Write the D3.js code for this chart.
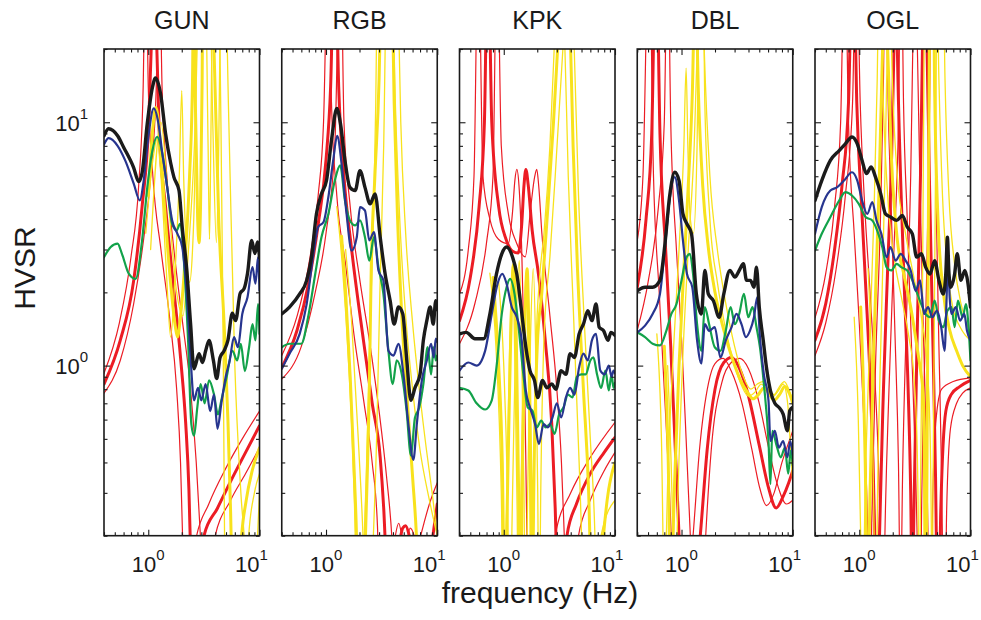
<!DOCTYPE html>
<html><head><meta charset="utf-8">
<script src="https://cdn.jsdelivr.net/npm/d3@7"></script>
<style>
body{margin:0;background:#fff}
svg{display:block}
text{font-family:"Liberation Sans",Arial,Helvetica,sans-serif;fill:#1a1a1a}
</style></head>
<body><svg id="chart" width="981" height="620"></svg>
<script>
// ---------------- DATA ----------------
const stations = ["GUN", "RGB", "KPK", "DBL", "OGL"];
const xTickMajor = [1, 10];
const yTickMajor = [1, 10];
const xTickMinor = [0.4,0.5,0.6,0.7,0.8,0.9,2,3,4,5,6,7,8,9];
const yTickMinor = [0.2,0.3,0.4,0.5,0.6,0.7,0.8,0.9,2,3,4,5,6,7,8,9,20];
const xAxisLabel = "frequency (Hz)";
const yAxisLabel = "HVSR";

// GUN
const gunBlack = [[0.40,8.8],[0.44,9.4],[0.53,8.8],[0.60,7.9],[0.74,6.5],[0.82,5.7],[0.88,6.2],[0.98,9.9],[1.09,13.9],[1.16,15.2],[1.29,13.1],[1.43,9.0],[1.59,6.8],[1.70,5.95],[1.89,5.24],[2.02,3.7],[2.21,2.53],[2.40,1.49],[2.58,0.97],[2.86,1.12],[3.07,1.03],[3.28,1.15],[3.52,1.27],[3.85,1.05],[4.12,0.885],[4.42,1.08],[4.80,1.15],[5.2,1.27],[5.7,1.64],[6.1,1.53],[6.7,1.98],[7.27,2.07],[7.8,2.39],[8.5,3.27],[9.1,2.89],[9.6,3.22],[10.0,2.78]];
const gunBlue = [[0.40,8.1],[0.44,8.6],[0.53,8.0],[0.62,6.97],[0.74,5.6],[0.84,4.77],[0.91,5.76],[1.01,9.0],[1.12,11.4],[1.22,10.2],[1.34,7.4],[1.48,5.4],[1.64,3.95],[1.83,3.48],[2.02,3.07],[2.24,1.85],[2.40,1.08],[2.58,0.72],[2.80,0.81],[3.00,0.72],[3.28,0.84],[3.60,0.65],[3.90,0.76],[4.19,0.55],[4.54,0.70],[4.97,0.90],[5.40,1.05],[5.90,1.31],[6.40,1.19],[7.00,1.63],[7.80,1.91],[8.65,2.54],[9.20,2.17],[9.70,2.79],[10.0,2.03]];
const gunGreen = [[0.40,2.79],[0.46,3.07],[0.53,3.17],[0.58,2.88],[0.67,2.38],[0.77,2.27],[0.88,3.27],[0.98,5.4],[1.09,7.65],[1.2,8.7],[1.34,7.4],[1.48,5.4],[1.64,3.82],[1.8,3.59],[1.93,3.82],[2.09,2.7],[2.28,1.27],[2.44,0.575],[2.58,0.515],[2.76,0.674],[2.96,0.84],[3.21,0.70],[3.52,0.87],[3.9,0.76],[4.23,0.63],[4.54,0.72],[5.07,0.90],[5.7,1.15],[6.3,1.05],[6.8,1.23],[7.38,0.95],[8.06,1.19],[8.65,1.48],[9.2,1.27],[9.7,1.79],[10.0,1.35]];
const gunRedThick = [[0.40,0.84],[0.56,1.27],[0.74,2.24],[0.88,4.5],[1.01,10],[1.08,25],[1.13,60],[1.18,25],[1.25,9.5],[1.43,4.5],[1.64,2.39],[1.95,1.08],[2.17,0.58],[2.32,0.31],[2.42,0.15],[2.6,0.07],[2.9,0.1],[3.17,0.2],[4.2,0.26],[5.6,0.34],[7.5,0.44],[10.0,0.566]];
const gunRedThinA = [[0.40,0.93],[0.55,1.5],[0.70,2.8],[0.82,5.5],[0.90,14],[0.95,60],[1.0,14],[1.1,6.0],[1.3,3.0],[1.55,1.6],[1.8,0.8],[1.95,0.4],[2.04,0.19],[2.3,0.08],[2.66,0.19],[3.5,0.27],[5,0.38],[7,0.5],[10.0,0.65]];
const gunRedThinB = [[0.40,0.77],[0.56,1.05],[0.74,1.8],[0.9,3.2],[1.05,6],[1.18,14],[1.25,60],[1.33,14],[1.45,6.5],[1.7,3.0],[2.0,1.6],[2.4,0.8],[2.7,0.4],[2.96,0.19],[3.4,0.08],[3.9,0.19],[5.5,0.28],[7.5,0.36],[10.0,0.46]];
const gunYellowThick = [[1.0,5],[1.1,9.5],[1.17,11.5],[1.25,9.5],[1.4,4.5],[1.6,2.1],[1.75,1.45],[1.83,1.31],[1.95,1.6],[2.15,2.8],[2.35,6],[2.5,15],[2.56,40],[2.65,12],[2.78,4],[2.86,3.2],[2.95,4.5],[3.05,15],[3.1,40],[3.5,80],[3.9,20],[4.3,4],[4.8,1.5],[5.2,0.6],[5.5,0.25],[5.75,0.1],[6.2,0.06],[6.8,0.18],[7.6,0.28],[8.6,0.37],[10.0,0.46]];
const gunYellowThinA = [[0.95,3.5],[1.1,7],[1.2,8.5],[1.3,6],[1.45,2.5],[1.59,1.31],[1.75,2.5],[1.9,6],[2.0,13.5],[2.08,6],[2.2,3.0],[2.35,2.2],[2.5,3],[2.65,8],[2.75,40],[3.2,60],[3.45,8],[3.55,3.3],[3.65,8],[3.8,40],[4.2,60],[4.5,10],[4.7,1.5],[4.85,0.2],[5.2,0.05],[7.5,0.1],[8.0,0.2],[9.0,0.3],[10.0,0.36]];
const gunYellowThinB = [[1.05,3],[1.3,10],[1.5,5],[1.8,2],[2.05,1.6],[2.3,3],[2.6,8],[2.9,40],[3.5,60],[3.8,10],[4.1,3.2],[4.3,8],[4.5,40],[4.8,60],[5.3,10],[6.0,1.0],[6.8,0.3],[7.5,0.15],[8.0,0.05],[9.0,0.1],[9.6,0.2],[10.0,0.3]];

// RGB
const rgbBlack = [[0.40,1.63],[0.47,1.74],[0.58,1.97],[0.67,2.24],[0.74,2.79],[0.82,4.2],[0.91,5.08],[1.01,5.76],[1.12,8.43],[1.25,11.4],[1.35,9.85],[1.48,6.97],[1.64,5.4],[1.83,5.24],[2.02,6.33],[2.24,5.4],[2.49,4.62],[2.76,5.08],[3.07,3.37],[3.4,2.38],[3.77,1.85],[4.1,1.48],[4.48,1.74],[4.9,1.63],[5.3,1.08],[5.8,0.72],[6.3,0.81],[7.0,0.92],[7.5,1.27],[8.06,1.53],[8.65,1.74],[9.2,1.48],[9.7,1.85],[10.0,1.7]];
const rgbBlue = [[0.40,0.97],[0.47,1.12],[0.58,1.35],[0.67,1.79],[0.77,2.88],[0.85,3.71],[0.95,3.89],[1.05,4.93],[1.16,6.97],[1.26,8.8],[1.38,6.75],[1.53,4.2],[1.70,2.97],[1.89,3.37],[2.02,4.48],[2.24,4.34],[2.45,3.27],[2.7,3.54],[2.96,2.46],[3.28,2.24],[3.64,1.15],[4.04,1.10],[4.48,1.23],[4.97,0.92],[5.5,0.575],[6.1,0.41],[6.55,0.575],[7.27,0.87],[8.06,1.05],[8.8,1.23],[9.3,1.08],[9.7,1.29],[10.0,1.25]];
const rgbGreen = [[0.40,1.19],[0.47,1.23],[0.60,1.23],[0.69,1.58],[0.80,2.38],[0.91,3.37],[1.05,4.2],[1.2,5.76],[1.34,6.65],[1.48,4.77],[1.64,3.95],[1.83,3.77],[2.02,3.95],[2.24,3.37],[2.45,2.7],[2.7,3.37],[2.96,2.54],[3.28,1.97],[3.64,1.15],[3.98,0.84],[4.32,1.05],[4.8,0.92],[5.3,0.653],[5.8,0.427],[6.3,0.61],[6.9,0.674],[7.5,0.84],[8.2,1.19],[8.8,0.92],[9.3,1.19],[9.7,1.05],[10.0,1.1]];
const rgbRedThick = [[0.40,0.98],[0.55,1.4],[0.7,2.2],[0.85,3.8],[1.0,7],[1.1,14],[1.2,60],[1.3,14],[1.45,6],[1.7,3],[2.17,1.27],[2.6,0.7],[3.07,0.42],[3.3,0.26],[3.5,0.15],[3.8,0.12],[4.3,0.16],[4.6,0.19],[4.9,0.215],[5.2,0.22],[5.6,0.2],[6.2,0.15],[7.0,0.11],[8.0,0.13],[9.0,0.19],[10.0,0.27]];
const rgbRedThinA = [[0.40,1.10],[0.55,1.6],[0.7,2.6],[0.85,5],[0.95,10],[1.05,60],[1.12,12],[1.25,5],[1.5,2.6],[1.8,1.3],[2.2,0.7],[2.6,0.4],[2.9,0.22],[3.0,0.12],[3.3,0.08],[3.8,0.14],[4.2,0.2],[4.5,0.225],[4.8,0.2],[5.2,0.16],[5.8,0.15],[6.5,0.17],[7.1,0.2],[8.5,0.27],[10.0,0.33]];
const rgbRedThinB = [[0.40,0.88],[0.6,1.2],[0.8,2.0],[1.0,3.5],[1.2,8],[1.35,60],[1.45,10],[1.65,4.5],[2.0,2.3],[2.5,1.2],[3.0,0.65],[3.5,0.35],[3.9,0.2],[4.2,0.1],[4.8,0.12],[5.3,0.18],[5.7,0.215],[6.2,0.2],[6.8,0.16],[8.0,0.1],[10.0,0.15]];
const rgbYellowThick = [[1.38,3.4],[1.5,2.0],[1.65,0.9],[1.8,0.35],[1.89,0.18],[1.95,0.08],[2.15,0.08],[2.25,0.18],[2.45,0.8],[2.55,2.5],[2.75,6],[3.0,15],[3.15,40],[3.5,80],[3.9,40],[4.1,12],[4.4,4],[4.8,1.6],[5.4,0.7],[6.0,0.35],[6.5,0.2],[6.9,0.1],[8,0.05]];
const rgbYellowThinA = [[1.25,4.5],[1.4,2.6],[1.6,1.0],[1.75,0.4],[1.85,0.15],[1.9,0.05],[2.1,0.1],[2.3,0.35],[2.5,1.5],[2.7,5],[2.8,12],[2.9,40],[3.3,80],[3.8,80],[4.2,12],[4.6,4],[5.2,1.6],[6.0,0.8],[7.0,0.45],[8.5,0.28],[10.0,0.2]];
const rgbYellowThinB = [[1.5,3.0],[1.7,1.5],[1.95,0.5],[2.2,0.15],[2.35,0.05],[2.6,0.15],[2.85,0.5],[3.05,2],[3.3,8],[3.5,40],[4.0,80],[4.4,40],[4.7,10],[5.2,3.5],[6.0,1.5],[7.0,0.75],[8.0,0.45],[9.0,0.3],[10.0,0.2]];

// KPK
const kpkBlack = [[0.40,1.35],[0.46,1.37],[0.55,1.29],[0.66,1.29],[0.75,1.63],[0.86,2.38],[0.96,2.88],[1.06,3.07],[1.20,2.79],[1.31,2.38],[1.43,1.74],[1.58,1.19],[1.72,0.954],[1.89,0.868],[2.02,0.74],[2.23,0.868],[2.44,0.81],[2.7,0.84],[2.94,0.80],[3.28,0.954],[3.62,0.92],[3.95,1.12],[4.32,1.08],[4.76,1.35],[5.2,1.48],[5.7,1.68],[6.2,1.53],[6.75,1.79],[7.2,1.44],[7.9,1.39],[8.65,1.27],[9.2,1.37],[9.7,1.35],[10.0,1.33]];
const kpkBlue = [[0.40,0.954],[0.48,1.03],[0.57,1.0],[0.68,1.15],[0.78,1.63],[0.88,2.17],[0.97,2.38],[1.06,2.17],[1.18,1.74],[1.31,1.58],[1.45,1.27],[1.58,0.789],[1.72,0.674],[1.91,0.575],[2.07,0.476],[2.28,0.575],[2.49,0.557],[2.74,0.612],[3.0,0.70],[3.28,0.612],[3.62,0.74],[3.95,0.81],[4.32,0.76],[4.76,0.985],[5.2,1.12],[5.7,1.05],[6.2,1.27],[6.75,1.35],[7.38,0.954],[8.06,0.92],[8.8,1.0],[9.3,0.90],[9.7,0.954],[10.0,0.93]];
const kpkGreen = [[0.40,0.81],[0.48,0.79],[0.57,0.70],[0.68,0.66],[0.78,0.72],[0.86,0.985],[0.96,1.63],[1.06,2.10],[1.14,2.27],[1.25,1.97],[1.35,1.48],[1.50,0.92],[1.64,0.674],[1.81,0.653],[1.98,0.557],[2.17,0.594],[2.38,0.557],[2.61,0.575],[2.86,0.524],[3.15,0.632],[3.45,0.674],[3.77,0.76],[4.15,0.74],[4.54,0.90],[4.97,0.92],[5.45,0.92],[6.0,1.05],[6.4,1.08],[6.9,0.92],[7.5,0.81],[8.2,0.954],[8.8,0.79],[9.3,0.92],[9.7,0.81],[10.0,0.85]];
const kpkRedThick = [[0.40,1.53],[0.5,2.3],[0.6,4.5],[0.67,10],[0.72,60],[0.78,10],[0.9,4.5],[1.05,3.3],[1.2,2.95],[1.35,2.9],[1.45,3.8],[1.52,5.5],[1.58,6.4],[1.66,5.5],[1.8,3.6],[2.05,2.38],[2.36,1.27],[2.7,0.575],[2.9,0.26],[3.05,0.12],[3.4,0.08],[3.7,0.2],[4.5,0.27],[6.0,0.36],[8.0,0.44],[10.0,0.507]];
const kpkRedThinA = [[0.40,1.97],[0.48,3],[0.54,6],[0.59,60],[0.65,6],[0.75,4],[0.9,3.3],[1.1,3.17],[1.2,4.3],[1.26,5.8],[1.31,6.4],[1.37,5.5],[1.45,3],[1.52,1.2],[1.58,0.4],[1.63,0.15],[1.8,0.06],[2.5,0.1],[2.9,0.2],[4.0,0.3],[6.0,0.42],[10.0,0.585]];
const kpkRedThinB = [[0.40,1.23],[0.55,1.8],[0.7,3.2],[0.8,6],[0.87,60],[0.95,8],[1.1,4.2],[1.3,3.2],[1.56,2.8],[1.75,4.5],[1.9,6],[1.98,6.4],[2.06,5.5],[2.2,3.5],[2.6,1.6],[3.0,0.8],[3.3,0.4],[3.5,0.2],[3.7,0.1],[4.2,0.07],[4.7,0.2],[6,0.28],[8,0.37],[10.0,0.44]];
const kpkYellowThick = [[0.8,2.3],[0.9,1.0],[0.97,0.4],[1.02,0.1],[1.08,0.3],[1.15,1.2],[1.22,2.6],[1.3,1.2],[1.36,0.3],[1.4,0.08],[1.46,0.3],[1.55,1.5],[1.62,2.5],[1.7,1.0],[1.76,0.3],[1.8,0.08],[1.86,0.3],[2.0,1.2],[2.2,2.0],[2.45,4],[2.8,10],[3.2,30],[3.5,60],[3.9,30],[4.2,8],[4.6,2.5],[5.2,0.8],[5.8,0.3],[6.2,0.1],[6.8,0.07],[7.5,0.15],[8.5,0.28],[10.0,0.4]];
const kpkYellowThinA = [[0.75,2.4],[0.85,1.2],[0.95,0.3],[1.0,0.08],[1.06,0.25],[1.12,1.0],[1.2,2.6],[1.26,1.0],[1.32,0.25],[1.36,0.07],[1.42,0.25],[1.5,1.1],[1.58,2.4],[1.66,1.0],[1.72,0.25],[1.77,0.07],[1.84,0.3],[1.95,1.2],[2.1,2.3],[2.3,3.5],[2.6,8],[2.9,25],[3.2,60],[3.5,25],[3.8,6],[4.2,1.8],[4.6,0.6],[5.0,0.2],[5.3,0.06],[6.5,0.1],[7.5,0.2],[10.0,0.28]];
const kpkYellowThinB = [[0.9,2.2],[1.0,1.0],[1.08,0.3],[1.13,0.08],[1.2,0.3],[1.28,1.3],[1.38,2.7],[1.45,1.1],[1.52,0.3],[1.57,0.07],[1.64,0.3],[1.74,1.3],[1.84,2.5],[1.94,1.1],[2.02,0.3],[2.08,0.07],[2.15,0.3],[2.3,1.3],[2.6,2.8],[2.9,6],[3.4,20],[3.9,60],[4.3,20],[4.7,5],[5.3,1.5],[6.0,0.5],[6.6,0.2],[7.0,0.06],[8.5,0.12],[10.0,0.2]];

// DBL
const dblBlack = [[0.40,2.03],[0.47,2.1],[0.55,2.1],[0.64,2.24],[0.71,3.17],[0.78,4.93],[0.87,6.23],[0.95,5.76],[1.03,4.2],[1.12,3.82],[1.23,3.48],[1.36,1.97],[1.51,1.63],[1.62,2.46],[1.74,1.97],[1.93,1.85],[2.18,1.58],[2.40,1.97],[2.72,2.46],[3.02,2.31],[3.3,2.46],[3.6,2.62],[3.84,2.24],[4.17,2.24],[4.48,2.1],[4.72,2.54],[5.0,1.74],[5.43,1.27],[5.8,0.985],[6.3,0.79],[6.9,0.70],[7.5,0.674],[8.2,0.632],[8.95,0.54],[9.4,0.653],[10.0,0.674]];
const dblBlue = [[0.40,1.37],[0.47,1.46],[0.55,1.63],[0.64,1.97],[0.71,3.07],[0.78,4.77],[0.87,5.95],[0.95,4.77],[1.03,3.27],[1.12,2.38],[1.25,2.1],[1.38,1.27],[1.51,1.02],[1.62,1.48],[1.77,1.39],[1.99,1.44],[2.24,1.08],[2.5,1.27],[2.82,1.44],[3.12,1.63],[3.46,1.48],[3.79,1.31],[4.12,1.39],[4.48,1.58],[4.8,1.91],[5.07,1.31],[5.5,0.92],[6.05,0.72],[6.3,0.49],[6.9,0.54],[7.5,0.46],[8.2,0.49],[8.95,0.42],[9.5,0.49],[10.0,0.43]];
const dblGreen = [[0.40,1.37],[0.47,1.31],[0.55,1.23],[0.64,1.21],[0.73,1.39],[0.81,1.63],[0.90,1.79],[1.0,2.24],[1.11,2.79],[1.19,2.88],[1.27,2.38],[1.38,1.48],[1.51,1.15],[1.62,1.74],[1.77,1.48],[1.99,1.19],[2.24,1.15],[2.5,1.39],[2.76,1.74],[3.02,1.48],[3.3,1.63],[3.64,1.97],[3.98,1.58],[4.35,1.74],[4.72,1.44],[5.07,1.19],[5.5,0.84],[6.05,0.49],[6.3,0.326],[6.55,0.54],[7.1,0.476],[7.8,0.42],[8.5,0.46],[9.1,0.36],[9.6,0.447],[10.0,0.39]];
const dblRedThick = [[0.40,2.1],[0.48,4],[0.54,9],[0.59,60],[0.64,9],[0.72,3],[0.8,1.2],[0.88,0.45],[0.95,0.2],[1.0,0.1],[1.2,0.06],[1.4,0.15],[1.5,0.22],[1.7,0.45],[2.0,0.8],[2.4,1.03],[2.82,1.08],[3.3,0.98],[4.0,0.75],[5.0,0.47],[6.0,0.32],[7.1,0.26],[8.2,0.29],[9.2,0.33],[10.0,0.37]];
const dblRedThinA = [[0.40,3.27],[0.45,6],[0.51,60],[0.56,6],[0.63,2],[0.7,0.8],[0.78,0.3],[0.83,0.15],[0.95,0.07],[1.15,0.12],[1.27,0.2],[1.45,0.45],[1.75,0.85],[2.0,1.02],[2.37,1.07],[2.8,0.95],[3.5,0.7],[4.3,0.45],[5.0,0.32],[5.8,0.266],[6.8,0.3],[8.0,0.4],[9.0,0.47],[10.0,0.54]];
const dblRedThinB = [[0.40,1.4],[0.5,2.2],[0.62,4.5],[0.7,10],[0.75,60],[0.8,10],[0.9,3],[1.0,1.3],[1.1,0.5],[1.2,0.2],[1.3,0.08],[1.5,0.08],[1.65,0.2],[1.85,0.45],[2.3,0.85],[2.8,1.03],[3.35,1.07],[4.0,0.97],[5.0,0.7],[6.0,0.47],[7.2,0.33],[8.8,0.27],[10.0,0.28]];
const dblYellowThick = [[0.7,1.2],[0.76,0.4],[0.8,0.1],[0.86,0.3],[0.95,1.0],[1.05,2.5],[1.15,5.5],[1.25,13],[1.33,40],[1.42,13],[1.55,5.5],[1.75,3.0],[2.0,2.0],[2.4,1.4],[2.9,1.05],[3.4,0.87],[3.9,0.78],[4.4,0.73],[4.9,0.76],[5.5,0.81],[6.1,0.77],[6.8,0.72],[7.6,0.76],[8.5,0.82],[9.3,0.77],[10.0,0.7]];
const dblYellowThinA = [[0.6,1.35],[0.66,0.5],[0.7,0.12],[0.76,0.4],[0.85,1.2],[0.95,3],[1.05,8],[1.1,16.7],[1.14,8],[1.2,4],[1.28,3.5],[1.38,8],[1.45,40],[1.55,60],[1.62,12],[1.8,4],[2.1,2.2],[2.5,1.4],[3.0,1.0],[3.5,0.82],[4.0,0.75],[4.6,0.78],[5.2,0.84],[5.8,0.8],[6.5,0.74],[7.3,0.78],[8.2,0.84],[9.0,0.7],[9.5,0.48],[10.0,0.33]];
const dblYellowThinB = [[0.75,1.0],[0.82,0.3],[0.87,0.08],[0.93,0.3],[1.02,1.0],[1.15,3],[1.3,8],[1.42,30],[1.5,60],[1.6,20],[1.8,6],[2.1,3],[2.5,1.8],[3.0,1.2],[3.6,0.9],[4.2,0.8],[4.8,0.84],[5.4,0.86],[6.0,0.8],[6.8,0.76],[7.6,0.82],[8.4,0.86],[9.2,0.8],[10.0,0.72]];

// OGL
const oglBlack = [[0.40,4.77],[0.46,5.76],[0.55,6.97],[0.66,7.65],[0.75,8.15],[0.86,8.7],[0.96,8.15],[1.06,6.97],[1.16,6.15],[1.28,6.55],[1.40,5.95],[1.56,5.08],[1.72,4.2],[1.91,4.08],[2.17,3.95],[2.44,4.14],[2.7,3.71],[3.0,3.48],[3.28,2.79],[3.62,2.88],[3.95,2.54],[4.32,2.38],[4.76,2.7],[5.2,2.24],[5.7,1.97],[6.0,2.4],[6.2,3.37],[6.4,2.4],[6.66,2.1],[7.2,2.38],[7.6,2.88],[8.2,2.24],[8.9,2.46],[9.5,2.17],[10.0,1.74]];
const oglBlue = [[0.40,3.48],[0.46,4.48],[0.55,5.24],[0.63,5.4],[0.73,5.76],[0.86,6.23],[0.96,5.76],[1.06,4.77],[1.18,4.2],[1.31,4.7],[1.43,3.95],[1.58,3.48],[1.76,2.79],[1.91,3.07],[2.12,2.7],[2.36,2.88],[2.61,2.7],[2.9,2.46],[3.21,2.03],[3.52,2.24],[3.82,1.63],[4.15,1.74],[4.54,1.58],[4.97,1.68],[5.45,1.44],[5.85,1.15],[6.1,1.9],[6.28,2.79],[6.5,1.9],[6.75,1.63],[7.38,1.74],[8.06,1.53],[8.8,1.63],[9.3,1.39],[10.0,1.27]];
const oglGreen = [[0.40,2.97],[0.46,3.48],[0.55,4.08],[0.66,4.77],[0.75,5.16],[0.86,5.0],[0.99,4.62],[1.14,4.08],[1.31,3.95],[1.45,3.59],[1.61,3.07],[1.76,2.54],[1.94,2.46],[2.17,2.62],[2.38,2.54],[2.7,2.46],[3.0,2.24],[3.33,1.97],[3.7,1.74],[3.95,1.63],[4.32,1.58],[4.76,1.85],[5.2,1.53],[5.7,1.44],[6.2,1.68],[6.75,1.74],[7.2,1.44],[7.7,1.85],[8.5,1.58],[9.1,1.79],[9.6,1.44],[10.0,1.05]];
const oglRedThick = [[0.40,1.27],[0.5,1.8],[0.6,3],[0.7,5.5],[0.8,12],[0.88,60],[0.95,12],[1.05,4.5],[1.15,2.0],[1.25,0.9],[1.33,0.4],[1.4,0.15],[1.45,0.06],[1.52,0.2],[1.65,0.8],[1.8,2.5],[1.95,7],[2.05,20],[2.12,60],[2.2,20],[2.35,6],[2.55,2],[2.75,0.8],[2.9,0.3],[3.0,0.1],[3.1,0.25],[3.3,1.2],[3.55,6],[3.75,30],[3.85,60],[4.0,30],[4.3,5],[4.6,1.2],[4.85,0.35],[5.0,0.12],[5.15,0.06],[5.4,0.25],[6.0,0.65],[6.7,0.76],[8.0,0.82],[10.0,0.87]];
const oglRedThinA = [[0.40,1.57],[0.5,2.4],[0.6,4.5],[0.68,10],[0.74,60],[0.8,10],[0.9,3.5],[1.0,1.5],[1.1,0.6],[1.18,0.25],[1.24,0.08],[1.3,0.25],[1.4,1.0],[1.55,4],[1.65,15],[1.72,60],[1.8,15],[1.95,4],[2.1,1.3],[2.25,0.4],[2.35,0.1],[2.45,0.35],[2.65,1.5],[2.9,6],[3.05,25],[3.15,60],[3.3,25],[3.5,6],[3.75,1.5],[4.0,0.5],[4.2,0.15],[4.35,0.06],[4.55,0.25],[4.9,0.6],[5.5,0.8],[7,0.86],[10.0,0.89]];
const oglRedThinB = [[0.40,1.1],[0.5,1.5],[0.62,2.5],[0.75,5],[0.87,12],[0.94,60],[1.02,12],[1.12,4.5],[1.25,2],[1.38,0.9],[1.5,0.35],[1.58,0.12],[1.63,0.06],[1.7,0.2],[1.85,0.8],[2.05,3],[2.25,10],[2.38,60],[2.5,12],[2.7,4],[2.95,1.2],[3.2,0.4],[3.4,0.12],[3.5,0.06],[3.65,0.3],[3.95,1.5],[4.2,6],[4.4,30],[4.5,60],[4.65,25],[4.9,5],[5.2,1.2],[5.5,0.35],[5.7,0.1],[5.85,0.06],[6.1,0.25],[6.6,0.55],[7.5,0.7],[8.5,0.77],[10.0,0.81]];
const oglYellowThick = [[1.03,1.74],[1.1,0.7],[1.15,0.25],[1.18,0.08],[1.25,0.3],[1.35,1.2],[1.5,5],[1.62,20],[1.7,60],[1.8,20],[1.95,7],[2.2,3.27],[2.5,2.4],[2.9,1.74],[3.3,1.2],[3.56,0.95],[3.75,0.77],[3.85,0.4],[3.92,0.1],[3.97,0.05],[4.05,0.3],[4.15,2],[4.25,15],[4.35,60],[4.6,60],[4.75,15],[5.1,4],[5.7,2.0],[6.5,1.4],[7.5,1.15],[8.5,1.0],[10.0,0.9]];
const oglYellowThinA = [[0.9,1.58],[0.98,0.6],[1.03,0.2],[1.07,0.06],[1.12,0.25],[1.22,1.0],[1.35,4],[1.45,15],[1.52,60],[1.62,15],[1.8,5],[2.05,2.8],[2.4,1.9],[2.8,1.3],[3.1,0.9],[3.3,0.5],[3.4,0.2],[3.45,0.06],[3.55,0.3],[3.7,2],[3.8,12],[3.9,60],[4.9,60],[5.2,15],[5.6,5],[6.2,2.5],[7.0,1.7],[8.0,1.45],[9.0,1.33],[10.0,1.27]];
const oglYellowThinB = [[1.2,2.5],[1.3,0.8],[1.36,0.2],[1.4,0.06],[1.46,0.3],[1.58,1.5],[1.7,6],[1.8,25],[1.86,60],[1.95,20],[2.2,6],[2.6,3.5],[3.1,2.3],[3.6,1.6],[4.0,1.1],[4.3,0.6],[4.45,0.2],[4.5,0.06],[4.6,0.3],[4.75,2],[4.9,12],[5.0,60],[5.6,60],[5.9,15],[6.4,5],[7.2,2.6],[8.2,1.8],[9.2,1.5],[10.0,1.35]];

// ---------------- BUILD ----------------
const C = {black:"#1b1b1b", blue:"#27358f", green:"#12a24a", red:"#ec1c24", yellow:"#f8e21c"};
function group(black, blue, green, rA, rT, rB, yT, yA, yB){
  return [
    {d:rA, c:C.red, w:1.2}, {d:rB, c:C.red, w:1.2}, {d:rT, c:C.red, w:3},
    {d:yA, c:C.yellow, w:1.3}, {d:yB, c:C.yellow, w:1.3}, {d:yT, c:C.yellow, w:3},
    {d:green, c:C.green, w:2.2}, {d:blue, c:C.blue, w:2.2}, {d:black, c:C.black, w:3.4}
  ];
}
const seriesByStation = [
  group(gunBlack,gunBlue,gunGreen,gunRedThinA,gunRedThick,gunRedThinB,gunYellowThick,gunYellowThinA,gunYellowThinB),
  group(rgbBlack,rgbBlue,rgbGreen,rgbRedThinA,rgbRedThick,rgbRedThinB,rgbYellowThick,rgbYellowThinA,rgbYellowThinB),
  group(kpkBlack,kpkBlue,kpkGreen,kpkRedThinA,kpkRedThick,kpkRedThinB,kpkYellowThick,kpkYellowThinA,kpkYellowThinB),
  group(dblBlack,dblBlue,dblGreen,dblRedThinA,dblRedThick,dblRedThinB,dblYellowThick,dblYellowThinA,dblYellowThinB),
  group(oglBlack,oglBlue,oglGreen,oglRedThinA,oglRedThick,oglRedThinB,oglYellowThick,oglYellowThinA,oglYellowThinB)
];

const svg = d3.select("#chart");
svg.append("rect").attr("width",981).attr("height",620).attr("fill","#fff");
const defs = svg.append("defs");
const left0 = 104, step = 177.75, pw = 155.5, pTop = 49, pBottom = 535.7;
const yScale = d3.scaleLog().domain([0.2, 20]).range([pBottom, pTop]);

stations.forEach((name, i) => {
  const x0 = left0 + i*step;
  const x = d3.scaleLog().domain([0.4, 10]).range([x0, x0 + pw]);
  defs.append("clipPath").attr("id","clip"+i).append("rect")
    .attr("x",x0).attr("y",pTop).attr("width",pw).attr("height",pBottom-pTop);
  const g = svg.append("g").attr("clip-path","url(#clip"+i+")");
  const line = d3.line().x(d=>x(d[0])).y(d=>yScale(d[1])).curve(d3.curveMonotoneX);
  seriesByStation[i].forEach(s => {
    g.append("path").attr("d", line(s.d)).attr("fill","none")
      .attr("stroke", s.c).attr("stroke-width", s.w)
      .attr("stroke-linejoin","round").attr("stroke-linecap","round");
  });
  const ax = svg.append("g");
  const mk = (gen, vals, size) => gen.tickValues(vals).tickSize(-size).tickFormat("");
  ax.append("g").attr("transform",`translate(0,${pBottom})`).call(mk(d3.axisBottom(x), xTickMajor, 6));
  ax.append("g").attr("transform",`translate(0,${pBottom})`).call(mk(d3.axisBottom(x), xTickMinor, 3.5));
  ax.append("g").attr("transform",`translate(0,${pTop})`).call(mk(d3.axisTop(x), xTickMajor, 6));
  ax.append("g").attr("transform",`translate(0,${pTop})`).call(mk(d3.axisTop(x), xTickMinor, 3.5));
  ax.append("g").attr("transform",`translate(${x0},0)`).call(mk(d3.axisLeft(yScale), yTickMajor, 6));
  ax.append("g").attr("transform",`translate(${x0},0)`).call(mk(d3.axisLeft(yScale), yTickMinor, 3.5));
  ax.append("g").attr("transform",`translate(${x0+pw},0)`).call(mk(d3.axisRight(yScale), yTickMajor, 6));
  ax.append("g").attr("transform",`translate(${x0+pw},0)`).call(mk(d3.axisRight(yScale), yTickMinor, 3.5));
  ax.selectAll(".domain").remove();
  ax.selectAll(".tick line").attr("stroke","#1a1a1a").attr("stroke-width",1.1);
  svg.append("rect").attr("x",x0).attr("y",pTop).attr("width",pw).attr("height",pBottom-pTop)
    .attr("fill","none").attr("stroke","#1a1a1a").attr("stroke-width",1.6);
  xTickMajor.forEach(v => {
    const shift = v === 10 ? -8 : 0;
    const t = svg.append("text").attr("x", x(v) + shift).attr("y", 572).attr("text-anchor","middle").attr("font-size",22);
    t.append("tspan").text("10");
    t.append("tspan").attr("dy",-12).attr("font-size",15).text(String(Math.round(Math.log10(v))));
  });
  svg.append("text").attr("x", x0 + pw/2).attr("y", 29).attr("text-anchor","middle")
    .attr("font-size",25).text(name);
});
yTickMajor.forEach(v => {
  const t = svg.append("text").attr("x", 88).attr("y", yScale(v)+8.5).attr("text-anchor","end").attr("font-size",22);
  t.append("tspan").text("10");
  t.append("tspan").attr("dy",-12).attr("font-size",15).text(String(Math.round(Math.log10(v))));
});
svg.append("text").attr("transform","translate(35,268) rotate(-90)").attr("text-anchor","middle")
  .attr("font-size",30).text(yAxisLabel);
svg.append("text").attr("x",540).attr("y",603).attr("text-anchor","middle")
  .attr("font-size",30).text(xAxisLabel);
</script></body></html>
